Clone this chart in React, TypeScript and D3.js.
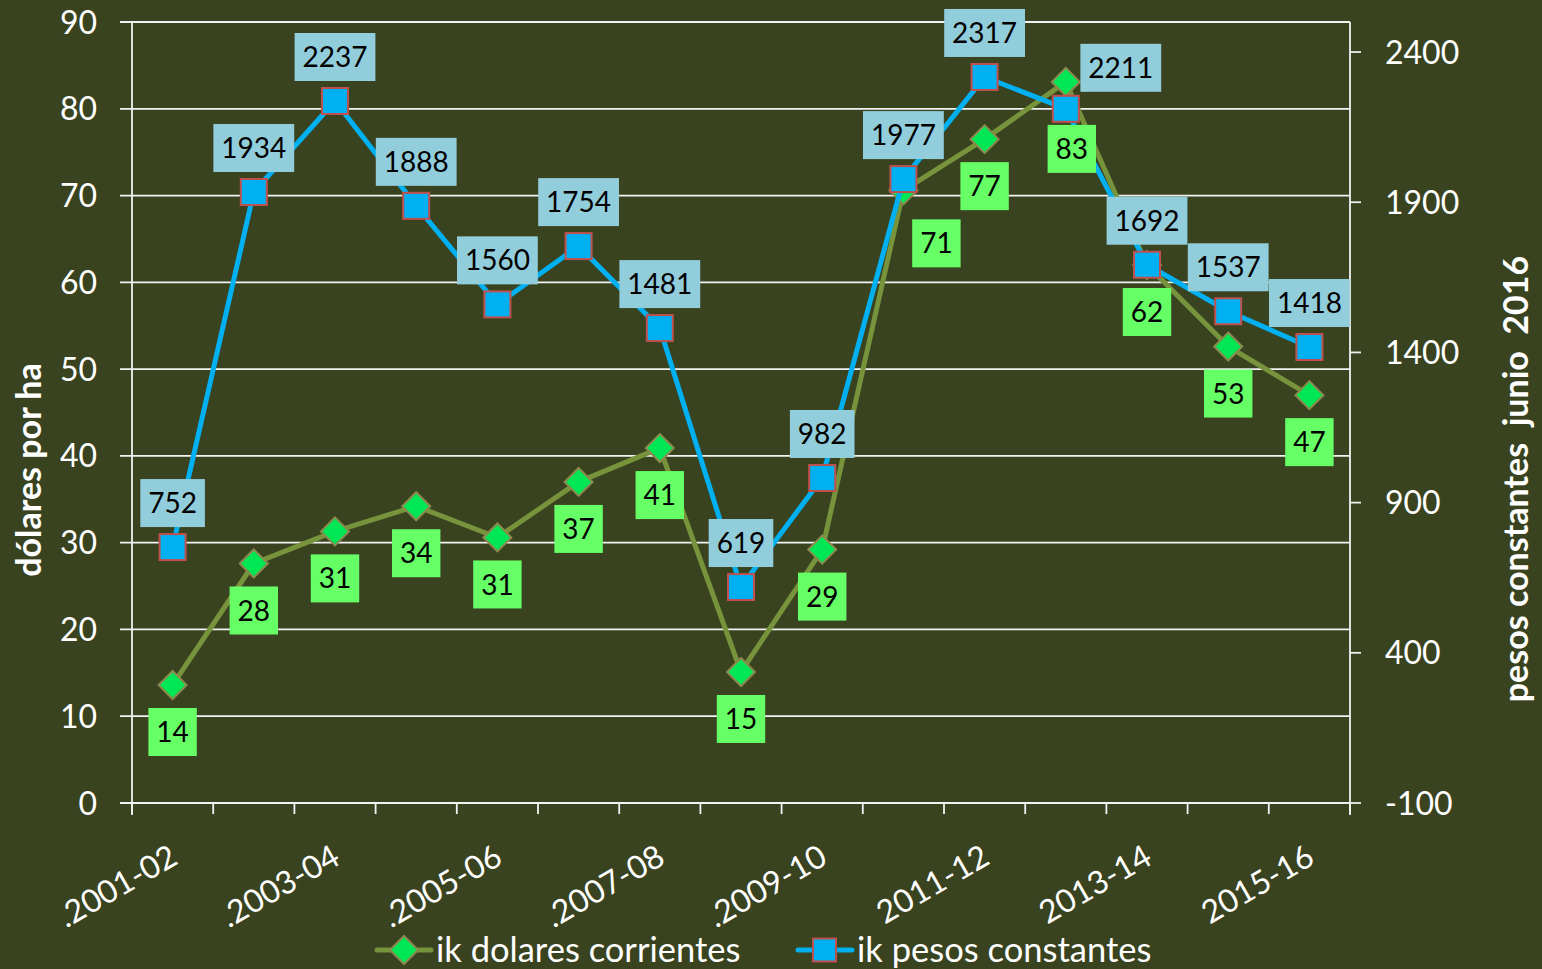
import React from "react";
import * as d3 from "d3";

const categories = [".2001-02", ".2002-03", ".2003-04", ".2004-05", ".2005-06", ".2006-07", ".2007-08", ".2008-09", ".2009-10", "2010-11", "2011-12", "2012-13", "2013-14", "2014-15", "2015-16"];
const dolares = [13.6, 27.6, 31.3, 34.2, 30.6, 37.0, 40.9, 15.1, 29.2, 70.6, 76.5, 83.1, 62.0, 52.6, 47.0];
const pesos = [752, 1934, 2237, 1888, 1560, 1754, 1481, 619, 982, 1977, 2317, 2211, 1692, 1537, 1418];
const leftTicks = [0, 10, 20, 30, 40, 50, 60, 70, 80, 90];
const rightTicks = [-100, 400, 900, 1400, 1900, 2400];
const seriesNames = ["ik dolares corrientes", "ik pesos constantes"];
const leftTitle = "dólares por ha";
const rightTitle = "pesos constantes  junio  2016";

// label placement tweaks (style, not data)
const greenLabelShift: Record<number, [number, number]> = { 9: [33, 53], 11: [6, 67] };
const blueLabelShift: Record<number, [number, number]> = { 11: [55, -41] };

const W = 1542, H = 969;
const L = 132, R = 1350, T = 22, B = 803;
const BG = "#3a4320";
const FONT = "Lato, 'Open Sans', sans-serif";
const BLUE = "#00b0f0";
const GREENLINE = "#77933c";

export default function App() {
  const x = d3.scaleBand<string>().domain(categories).range([L, R]);
  const xc = (i: number) => (x(categories[i]) as number) + x.bandwidth() / 2;
  const yL = d3.scaleLinear().domain([0, 90]).range([B, T]);
  const yR = d3.scaleLinear().domain([-100, 2500]).range([B, T]);

  const lineG = d3.line<number>().x((_, i) => xc(i)).y((d) => yL(d))(dolares) as string;
  const lineB = d3.line<number>().x((_, i) => xc(i)).y((d) => yR(d))(pesos) as string;
  const fmt = d3.format(".0f");
  const boxW = (s: string) => 16.2 * s.length + 16;
  const boxH = 48;

  const diamond = (cx: number, cy: number, r: number) =>
    `M${cx},${cy - r}L${cx + r},${cy}L${cx},${cy + r}L${cx - r},${cy}Z`;

  const bounds = d3.range(categories.length + 1).map((i) => L + i * x.step());

  return (
    <svg width={W} height={H} style={{ position: "absolute", left: 0, top: 0, display: "block" }}>
      <rect x={0} y={0} width={W} height={H} fill={BG} />
      {/* gridlines */}
      {leftTicks.map((t) => (
        <line key={"g" + t} x1={L - 12} x2={R} y1={yL(t)} y2={yL(t)} stroke="#f2f2f2" strokeWidth={1.8} />
      ))}
      {/* axes */}
      <line x1={L} x2={L} y1={T} y2={B + 12} stroke="#f2f2f2" strokeWidth={1.8} />
      <line x1={R} x2={R} y1={T} y2={B + 12} stroke="#f2f2f2" strokeWidth={1.8} />
      {bounds.map((bx, i) => (
        <line key={"xt" + i} x1={bx} x2={bx} y1={B} y2={B + 11} stroke="#f2f2f2" strokeWidth={1.8} />
      ))}
      {rightTicks.map((t) => (
        <line key={"rt" + t} x1={R} x2={R + 11} y1={yR(t)} y2={yR(t)} stroke="#f2f2f2" strokeWidth={1.8} />
      ))}
      {/* left tick labels */}
      {leftTicks.map((t) => (
        <text key={"lt" + t} x={97} y={yL(t)} dy="0.36em" textAnchor="end" fill="#ffffff" fontFamily={FONT} fontSize={32}>
          {t}
        </text>
      ))}
      {rightTicks.map((t) => (
        <text key={"rl" + t} x={1385} y={yR(t)} dy="0.36em" textAnchor="start" fill="#ffffff" fontFamily={FONT} fontSize={32}>
          {t}
        </text>
      ))}
      {/* x labels */}
      {categories.map((c, i) =>
        i % 2 === 0 ? (
          <text key={"xl" + i} transform={`translate(${xc(i) + 7},${863}) rotate(-30)`} textAnchor="end" fill="#ffffff" fontFamily={FONT} fontSize={32}>
            {c}
          </text>
        ) : null
      )}
      {/* axis titles */}
      <text transform={`translate(41,${470}) rotate(-90)`} textAnchor="middle" fill="#ffffff" fontFamily={FONT} fontWeight="bold" fontSize={34}>
        {leftTitle}
      </text>
      <text transform={`translate(1528,${479}) rotate(-90)`} textAnchor="middle" fill="#ffffff" fontFamily={FONT} fontWeight="bold" fontSize={34} style={{ whiteSpace: "pre" }}>
        {rightTitle}
      </text>

      {/* green series */}
      <path d={lineG} fill="none" stroke={GREENLINE} strokeWidth={5} strokeLinejoin="round" />
      {dolares.map((d, i) => (
        <path key={"gd" + i} d={diamond(xc(i), yL(d), 14)} fill="#00e756" stroke="#8c8a4e" strokeWidth={2} />
      ))}
      {/* blue series */}
      <path d={lineB} fill="none" stroke={BLUE} strokeWidth={5} strokeLinejoin="round" />
      {pesos.map((d, i) => (
        <rect key={"bm" + i} x={xc(i) - 13} y={yR(d) - 13} width={26} height={26} fill={BLUE} stroke="#c0504d" strokeWidth={2} />
      ))}

      {/* labels */}
      {dolares.map((d, i) => {
        const s = fmt(d);
        const [dx, dy] = greenLabelShift[i] || [0, 47];
        const cx = xc(i) + dx, cy = yL(d) + dy;
        const w = boxW(s);
        return (
          <g key={"gl" + i}>
            <rect x={cx - w / 2} y={cy - boxH / 2} width={w} height={boxH} fill="#66ff66" />
            <text x={cx} y={cy} dy="0.36em" textAnchor="middle" fill="#000" fontFamily={FONT} fontSize={28}>{s}</text>
          </g>
        );
      })}
      {pesos.map((d, i) => {
        const s = fmt(d);
        const [dx, dy] = blueLabelShift[i] || [0, -44];
        const cx = xc(i) + dx, cy = yR(d) + dy;
        const w = boxW(s);
        return (
          <g key={"bl" + i}>
            <rect x={cx - w / 2} y={cy - boxH / 2} width={w} height={boxH} fill="#92cddc" />
            <text x={cx} y={cy} dy="0.36em" textAnchor="middle" fill="#000" fontFamily={FONT} fontSize={28}>{s}</text>
          </g>
        );
      })}

      {/* legend */}
      <g>
        <line x1={377} x2={431} y1={950} y2={950} stroke={GREENLINE} strokeWidth={5} strokeLinecap="round" />
        <path d={diamond(404, 950, 14)} fill="#00e756" stroke="#8c8a4e" strokeWidth={2} />
        <text x={436} y={950} dy="0.36em" fill="#ffffff" fontFamily={FONT} fontSize={34.5}>{seriesNames[0]}</text>
        <line x1={798} x2={852} y1={950} y2={950} stroke={BLUE} strokeWidth={5} strokeLinecap="round" />
        <rect x={813} y={938.5} width={23} height={23} fill={BLUE} stroke="#c0504d" strokeWidth={2} />
        <text x={857} y={950} dy="0.36em" fill="#ffffff" fontFamily={FONT} fontSize={34.5}>{seriesNames[1]}</text>
      </g>
    </svg>
  );
}
